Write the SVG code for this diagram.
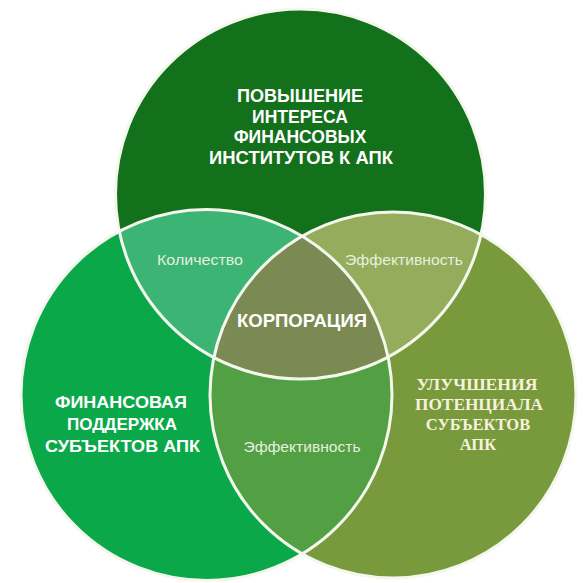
<svg xmlns="http://www.w3.org/2000/svg" width="583" height="583" viewBox="0 0 583 583">
<defs>
<style>
.outline{fill:none;stroke:#f4f8ec;stroke-width:3}
.big{font-family:"Liberation Sans",Arial,sans-serif;font-weight:bold;fill:#ffffff;text-anchor:middle}
.serif{font-family:"Liberation Serif","Times New Roman",serif;font-weight:bold;fill:#f6f2dc;text-anchor:middle}
.small{font-family:"Liberation Sans",Arial,sans-serif;fill:#e6efdf;text-anchor:middle}
</style>
<clipPath id="cTop"><circle cx="300.5" cy="194" r="185"/></clipPath>
<clipPath id="cLeft"><circle cx="206.5" cy="395" r="185.5"/></clipPath>
<clipPath id="cRight"><circle cx="393" cy="395" r="183"/></clipPath>
</defs>
<rect width="583" height="583" fill="#ffffff"/>
<g id="circle-top">
<circle cx="300.5" cy="194" r="185" fill="#13701b"/>
</g>
<g id="circle-left">
<circle cx="206.5" cy="395" r="185.5" fill="#0ba84a"/>
</g>
<g id="circle-right">
<circle cx="393" cy="395" r="183" fill="#799a3c"/>
</g>
<g id="overlap-top-left" clip-path="url(#cTop)">
<circle cx="206.5" cy="395" r="185.5" fill="#3cb473"/>
</g>
<g id="overlap-top-right" clip-path="url(#cTop)">
<circle cx="393" cy="395" r="183" fill="#94ac5b"/>
</g>
<g id="overlap-left-right" clip-path="url(#cLeft)">
<circle cx="393" cy="395" r="183" fill="#52a043"/>
</g>
<g id="overlap-center" clip-path="url(#cTop)">
<g clip-path="url(#cLeft)">
<circle cx="393" cy="395" r="183" fill="#7b8a52"/>
</g>
</g>
<g id="outlines">
<circle class="outline" cx="300.5" cy="194" r="185"/>
<circle class="outline" cx="206.5" cy="395" r="185.5"/>
<circle class="outline" cx="393" cy="395" r="183"/>
</g>
<g id="label-top">
<text class="big" font-size="17.5" x="300" y="102" textLength="126" lengthAdjust="spacingAndGlyphs">ПОВЫШЕНИЕ</text>
<text class="big" font-size="17.5" x="300" y="122.5">ИНТЕРЕСА</text>
<text class="big" font-size="17.5" x="300" y="143">ФИНАНСОВЫХ</text>
<text class="big" font-size="17.5" x="301" y="163.5" textLength="184" lengthAdjust="spacingAndGlyphs">ИНСТИТУТОВ К АПК</text>
</g>
<g id="label-left">
<text class="big" font-size="17" x="121" y="408" textLength="132" lengthAdjust="spacingAndGlyphs">ФИНАНСОВАЯ</text>
<text class="big" font-size="17" x="122" y="430">ПОДДЕРЖКА</text>
<text class="big" font-size="17" x="122.5" y="452" textLength="155" lengthAdjust="spacingAndGlyphs">СУБЪЕКТОВ АПК</text>
</g>
<g id="label-right">
<text class="serif" font-size="16.5" x="477" y="390" textLength="121" lengthAdjust="spacingAndGlyphs">УЛУЧШЕНИЯ</text>
<text class="serif" font-size="16.5" x="479" y="409.5" textLength="128" lengthAdjust="spacingAndGlyphs">ПОТЕНЦИАЛА</text>
<text class="serif" font-size="16.5" x="478" y="429.5">СУБЪЕКТОВ</text>
<text class="serif" font-size="16.5" x="478" y="450">АПК</text>
</g>
<g id="label-top-left">
<text class="small" font-size="14" x="200" y="265" textLength="86" lengthAdjust="spacingAndGlyphs">Количество</text>
</g>
<g id="label-top-right">
<text class="small" font-size="14" x="404" y="265" textLength="118" lengthAdjust="spacingAndGlyphs">Эффективность</text>
</g>
<g id="label-bottom">
<text class="small" font-size="14" x="302" y="452" textLength="117" lengthAdjust="spacingAndGlyphs">Эффективность</text>
</g>
<g id="label-center">
<text class="big" font-size="17.5" x="302" y="327" textLength="130" lengthAdjust="spacingAndGlyphs">КОРПОРАЦИЯ</text>
</g>
</svg>
